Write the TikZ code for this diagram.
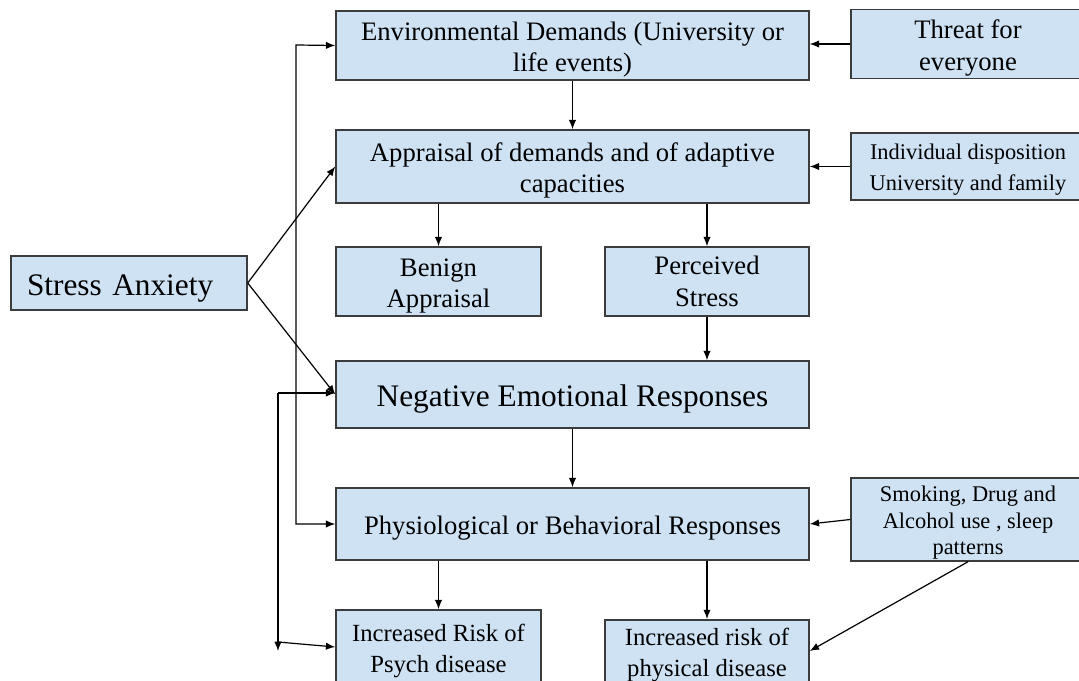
\documentclass[tikz,border=0pt]{standalone}
\usepackage{fontspec}
\setmainfont{Liberation Serif}
\usetikzlibrary{arrows.meta}
\definecolor{boxfill}{RGB}{207,226,243}
\definecolor{boxline}{RGB}{60,60,60}
\newcommand{\topgap}{\rule{0pt}{1em}}
\tikzset{
  blk/.style={draw=boxline, fill=boxfill, line width=1.1pt, align=center, inner sep=2pt,
    font=\fontsize{20}{23.5}\selectfont, execute at begin node={\topgap}},
  arr/.style={-{Latex[length=7pt,width=5.5pt]}, line width=0.9pt},
  arrs/.style={{Latex[length=7pt,width=5.5pt]}-{Latex[length=7pt,width=5.5pt]}, line width=0.9pt}
}
\begin{document}
\begin{tikzpicture}[x=0.75pt,y=0.75pt,yscale=-1,xscale=1]
\useasboundingbox (0,0) rectangle (1079,681);

%Shape: middle column
\node[blk, minimum width=354.75pt, minimum height=50.25pt] (env) at (572.5,45.5) {\topgap Environmental Demands (University or\\life events)};
\node[blk, minimum width=354.75pt, minimum height=54.75pt] (appr) at (572.5,166.5) {\topgap Appraisal of demands and of adaptive\\capacities};
\node[blk, minimum width=153.75pt, minimum height=51.75pt] (benign) at (438.5,281.5) {\topgap Benign\\Appraisal};
\node[blk, minimum width=153pt, minimum height=51.75pt] (perc) at (707,281.5) {Perceived\\Stress};
\node[blk, minimum width=354.75pt, minimum height=50.25pt, font=\fontsize{23.5}{27}\selectfont] (neg) at (572.5,394.5) {Negative Emotional Responses};
\node[blk, minimum width=354.75pt, minimum height=54pt] (phys) at (572.5,524) {Physiological or Behavioral Responses};
\node[blk, minimum width=153.75pt, minimum height=55.5pt, font=\fontsize{18.5}{23.25}\selectfont] (psych) at (438.5,647) {\topgap Increased Risk of\\Psych disease};
\node[blk, minimum width=153pt, minimum height=46.5pt, inner ysep=0.5pt, font=\fontsize{18.5}{23.25}\selectfont] (body) at (707,651) {\topgap Increased risk of\\physical disease};

%Shape: right column
\node[blk, minimum width=175.5pt, minimum height=51pt] (threat) at (968,44) {\topgap Threat for\\everyone};
\node[blk, minimum width=175.5pt, minimum height=50.25pt, font=\fontsize{16.8}{23.25}\selectfont] (indiv) at (968,166.5) {\topgap Individual disposition\\University and family};
\node[blk, minimum width=175.5pt, minimum height=62.25pt, inner ysep=0.5pt, font=\fontsize{16.8}{20}\selectfont] (smoke) at (968,519.5) {\topgap Smoking, Drug and\\Alcohol use , sleep\\patterns};

%Shape: left
\node[blk, text width=153pt, align=left, inner xsep=12pt, minimum height=40.5pt, font=\fontsize{23.5}{27}\selectfont] (stress) at (129,283) {Stress Anxiety};

%Straight Lines
\draw[arr] (threat.west) -- (threat.west -| env.east);
\draw[arr] (env) -- (appr);
\draw[arr] (indiv) -- (appr);
\draw[arr] (benign.north |- appr.south) -- (benign.north);
\draw[arr] (perc.north |- appr.south) -- (perc.north);
\draw[arr] (perc.south) -- (perc.south |- neg.north);
\draw[arr] (neg) -- (phys);
\draw[arr] (smoke.west) -- (phys.east);
\draw[arr] (psych.north |- phys.south) -- (psych.north);
\draw[arr] (body.north |- phys.south) -- (body.north);
\draw[arr] (smoke.south) -- (body.east);
\draw[arr] (stress.east) -- (appr.west);
\draw[arr] (stress.east) -- (neg.west);

%Straight Lines: left feedback
\coordinate (vt) at (296,45);
\coordinate (vb) at (296,524);
\draw[arrs] (env.west) -- (vt) -- (vb) -- (phys.west);
\coordinate (lt) at (278,393);
\coordinate (lb) at (278,651);
\coordinate (lm) at (278,642);
\draw[arr] (lt) -- (lb);
\draw[arr] (lt) -- (lt -| neg.west);
\draw[arr] (lm) -- (psych.west);

\end{tikzpicture}
\end{document}
